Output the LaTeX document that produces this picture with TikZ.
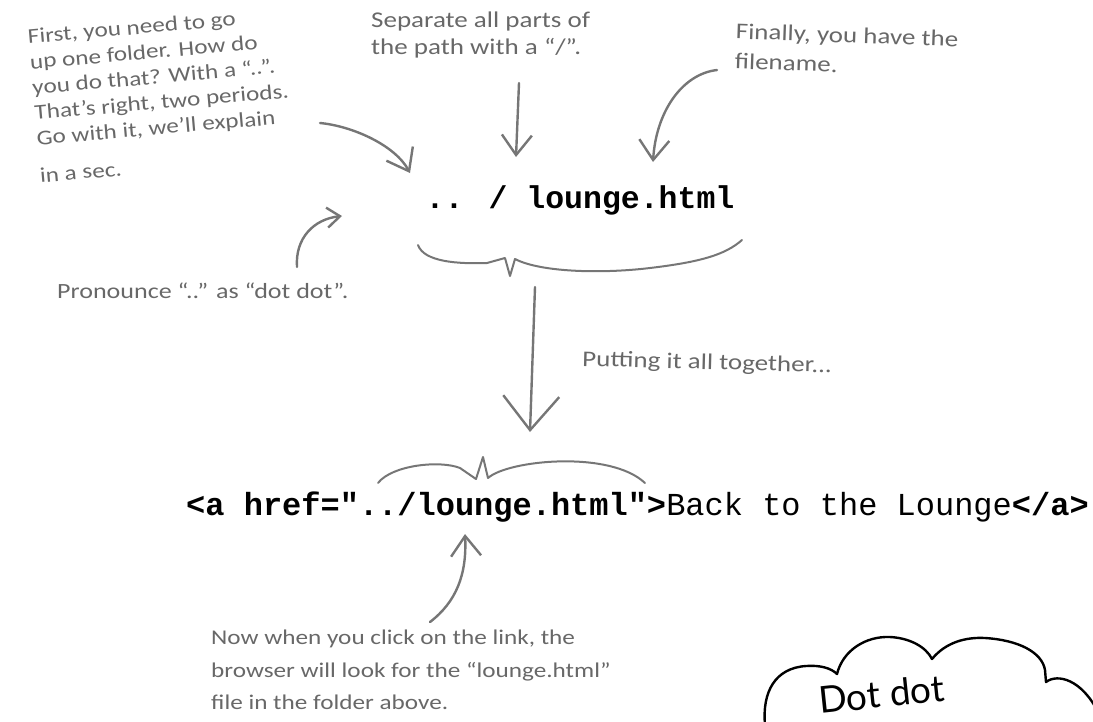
\documentclass[tikz,border=0pt]{standalone}
\usepackage{fontspec}
\setmainfont[FakeStretch=1.2]{Carlito}
\newfontfamily\codefont{Liberation Mono}
\newfontfamily\cloudfont{Lato}
\usepackage{xcolor}
\usetikzlibrary{arrows.meta}
\definecolor{inkgray}{RGB}{104,104,104}
\definecolor{linegray}{RGB}{118,118,118}

\begin{document}
\begin{tikzpicture}[x=1pt, y=-1pt,
  note/.style={text=inkgray, align=left, inner sep=0pt, font=\fontsize{22.5}{28}\selectfont},
  code/.style={inner sep=0pt, font=\codefont\fontsize{31.5}{36}\selectfont},
  hand/.style={draw=linegray, line width=2.4pt, line cap=round, line join=round},
  arrow/.style={hand, -{Straight Barb[length=20pt, width=30pt]}},
  bigarrow/.style={hand, -{Straight Barb[length=34pt, width=56pt]}},
  smallarrow/.style={hand, -{Straight Barb[length=13pt, width=20pt]}},
  brace/.style={hand, line width=2pt},
  cloud/.style={draw=black, line width=2.4pt, line cap=round, line join=round}
]
  \useasboundingbox (0,0) rectangle (1093,721);
  \clip (0,0) rectangle (1093,721);

  \node[note, anchor=north west, rotate=5, font=\fontsize{21}{25.5}\selectfont] (upnote) at (27,29)
    {First, you need to go\\up one folder. How do\\you do that? With a “..”.\\That’s right, two periods.\\Go with it, we’ll explain\\[12pt]in a sec.};
  \node[note, anchor=north west, font=\fontsize{22.5}{27}\selectfont] (sepnote) at (371,12)
    {Separate all parts of\\the path with a “/”.};
  \node[note, anchor=north west, rotate=-2, font=\fontsize{22.5}{30}\selectfont] (finnote) at (736,23)
    {Finally, you have the\\filename.};
  \node[code, anchor=base] (path) at (580,208) {\textbf{.. / lounge.html}};
  \node[note, anchor=base west, font=\fontsize{21.7}{28}\selectfont] (pron) at (57,298) {Pronounce “..” as “dot dot”.};
  \node[note, anchor=base west, rotate=-1.5] (together) at (582,366) {Putting it all together...};
  \node[code, anchor=base west, font=\codefont\fontsize{32}{36}\selectfont] (href) at (186,515)
    {\textbf{<a href="../lounge.html">}Back to the Lounge\textbf{</a>}};
  \node[note, anchor=north west, font=\fontsize{21}{32.5}\selectfont] (nownote) at (211,630)
    {Now when you click on the link, the\\browser will look for the “lounge.html”\\file in the folder above.};
  \node[inner sep=0pt, anchor=base west, rotate=6, font=\cloudfont\fontsize{37}{40}\selectfont] (dotdot) at (820,714) {Dot dot};

  \coordinate (up-a) at (320,123);
  \coordinate (up-b) at (410,173);
  \coordinate (sep-a) at (519,83);
  \coordinate (sep-b) at (516,157);
  \coordinate (fin-a) at (717,70);
  \coordinate (fin-b) at (653,162);
  \coordinate (pron-a) at (297,267);
  \coordinate (pron-b) at (342,216);
  \coordinate (tog-a) at (535,287);
  \coordinate (tog-b) at (530,432);
  \coordinate (now-a) at (430,622);
  \coordinate (now-b) at (465,534);

  \draw[arrow] (up-a) .. controls (352,126) and (395,145) .. (up-b);
  \draw[arrow] (sep-a) -- (sep-b);
  \draw[arrow] (fin-a) .. controls (682,74) and (656,112) .. (fin-b);
  \draw[smallarrow] (pron-a) .. controls (295,238) and (314,219) .. (pron-b);
  \draw[bigarrow] (tog-a) -- (tog-b);
  \draw[arrow] (now-a) .. controls (456,602) and (467,575) .. (now-b);

  \draw[brace] (418,245) .. controls (424,262) and (458,264) .. (487,263) -- (505,258) -- (510,276) -- (515,259)
    .. controls (540,272) and (600,274) .. (650,268) .. controls (700,262) and (725,255) .. (742,240);
  \draw[brace] (378,483) .. controls (392,465) and (440,460) .. (460,468) -- (476,479) -- (483,457) -- (488,478)
    .. controls (508,460) and (610,450) .. (645,483);

  \draw[cloud] (765,725) .. controls (762,692) and (775,668) .. (806,666)
    .. controls (820,665) and (831,668) .. (837,674)
    .. controls (843,650) and (866,636) .. (890,637)
    .. controls (910,638) and (926,647) .. (932,659)
    .. controls (946,642) and (966,637) .. (985,638)
    .. controls (1018,640) and (1042,652) .. (1045,670)
    -- (1046,682)
    .. controls (1058,673) and (1082,680) .. (1098,712);
\end{tikzpicture}
\end{document}
